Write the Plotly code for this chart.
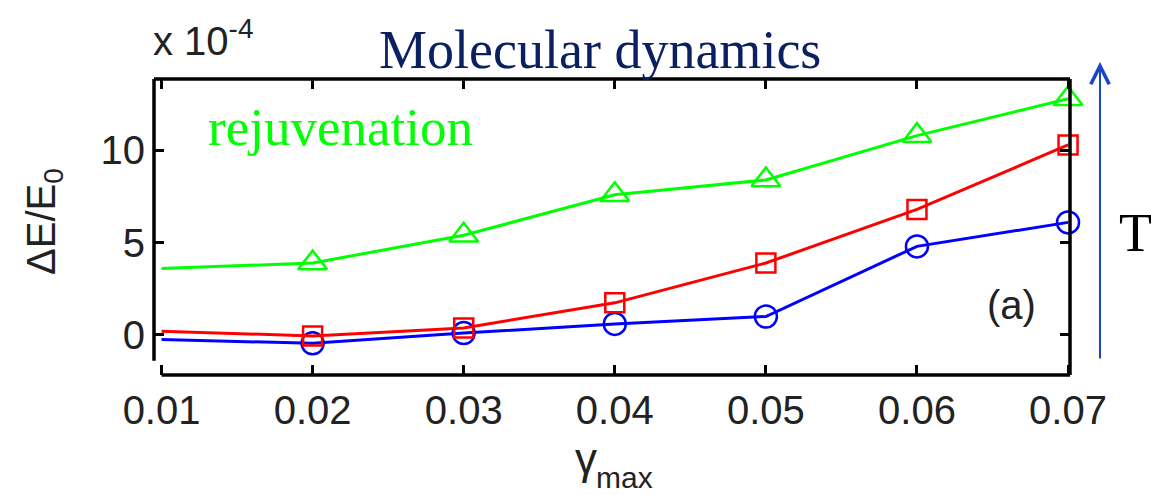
import plotly.graph_objects as go

# ---- data ----
gamma_max = [0.01, 0.02, 0.03, 0.04, 0.05, 0.06, 0.07]
x_tick_labels = ["0.01", "0.02", "0.03", "0.04", "0.05", "0.06", "0.07"]
y_tick_values = [0, 5, 10]
y_tick_labels = ["0", "5", "10"]

# Delta E / E0 in units of 1e-4
high_T = [3.6, 3.9, 5.4, 7.6, 8.4, 10.8, 12.8]      # green triangles
mid_T = [0.2, -0.05, 0.38, 1.74, 3.9, 6.8, 10.3]    # red squares
low_T = [-0.25, -0.45, 0.1, 0.6, 1.0, 4.8, 6.1]     # blue circles

# ---- layout geometry ----
W, H = 1151, 495
ML, MR, MT, MB = 154, 81, 79, 120
x_range = [0.0095, 0.07013]
y_range = [-2.17, 13.87]
left_axis_bottom = -1.4

PW = W - ML - MR
PH = H - MT - MB


def px(xp):
    return (xp - ML) / PW


def py(yp):
    return (H - MB - yp) / PH


series = [
    (low_T, "#0000ff", "circle-open", 22),
    (mid_T, "#ff0000", "square-open", 19),
    (high_T, "#00ff00", "triangle-up-open", 25),
]

fig = go.Figure()
for vals, col, sym, size in series:
    fig.add_trace(go.Scatter(
        x=gamma_max, y=vals, mode="lines+markers",
        line=dict(color=col, width=3),
        marker=dict(symbol=sym, size=size, color=col,
                    opacity=[0] + [1] * (len(vals) - 1),
                    line=dict(color=col, width=2.5)),
        showlegend=False, cliponaxis=False,
    ))

sans = "Liberation Sans, Arial, sans-serif"
serif = "Liberation Serif, Times New Roman, serif"
tick_col = "#222222"

fig.update_xaxes(
    range=x_range, tickvals=gamma_max, ticktext=x_tick_labels,
    ticks="inside", ticklen=10, tickwidth=3, tickcolor="black",
    mirror="ticks", showline=False, showgrid=False, zeroline=False,
    ticklabelstandoff=8,
    tickfont=dict(family=sans, size=40, color=tick_col),
)
fig.update_yaxes(
    range=y_range, tickvals=y_tick_values, ticktext=y_tick_labels,
    ticks="inside", ticklen=10, tickwidth=3, tickcolor="black",
    mirror="ticks", showline=False, showgrid=False, zeroline=False,
    ticklabelstandoff=8,
    tickfont=dict(family=sans, size=40, color=tick_col),
)

lw = 3.5
shapes = [
    dict(type="line", xref="paper", yref="y", x0=0, x1=0,
         y0=left_axis_bottom, y1=y_range[1], line=dict(color="black", width=lw)),
    dict(type="line", xref="paper", yref="paper", x0=0, x1=1, y0=1, y1=1,
         line=dict(color="black", width=lw)),
    dict(type="line", xref="paper", yref="paper", x0=1, x1=1, y0=0, y1=1,
         line=dict(color="black", width=lw)),
    dict(type="line", xref="x", yref="paper", x0=gamma_max[0], x1=x_range[1],
         y0=0, y1=0, line=dict(color="black", width=lw)),
]

annotations = [
    dict(text="Molecular dynamics", xref="paper", yref="paper",
         x=px(600), y=py(50), xanchor="center", yanchor="middle",
         showarrow=False, font=dict(family=serif, size=54, color="#0a2060")),
    dict(text="rejuvenation", xref="paper", yref="paper",
         x=px(206), y=py(127), xanchor="left", yanchor="middle",
         showarrow=False, font=dict(family=serif, size=53, color="#00ff00")),
    dict(text="T", xref="paper", yref="paper",
         x=px(1135), y=py(233), xanchor="center", yanchor="middle",
         showarrow=False, font=dict(family=serif, size=54, color="black")),
    dict(text="(a)", xref="paper", yref="paper",
         x=px(1011), y=py(305), xanchor="center", yanchor="middle",
         showarrow=False, font=dict(family=sans, size=40, color=tick_col)),
    dict(text="x 10<sup>-4</sup>", xref="paper", yref="paper",
         x=px(151), y=py(38), xanchor="left", yanchor="middle",
         showarrow=False, font=dict(family=sans, size=40, color=tick_col)),
    dict(text="ΔE/E<sub>0</sub>", xref="paper", yref="paper",
         x=px(44), y=py(222), xanchor="center", yanchor="middle", textangle=-90,
         showarrow=False, font=dict(family=sans, size=40, color=tick_col)),
    dict(text="γ", xref="paper", yref="paper",
         x=px(586), y=py(458), xanchor="center", yanchor="middle",
         showarrow=False, font=dict(family=sans, size=44, color=tick_col)),
    dict(text="max", xref="paper", yref="paper",
         x=px(594), y=py(477), xanchor="left", yanchor="middle",
         showarrow=False, font=dict(family=sans, size=30, color=tick_col)),
    # temperature arrow
    dict(text="", xref="paper", yref="paper", x=px(1100), y=py(62),
         ax=0, ay=360 - 62, showarrow=True, arrowhead=5, arrowsize=1.8,
         arrowwidth=2, arrowcolor="#1a45c8"),
]

fig.update_layout(
    width=W, height=H, autosize=False,
    margin=dict(l=ML, r=MR, t=MT, b=MB, pad=0),
    paper_bgcolor="white", plot_bgcolor="white",
    shapes=shapes, annotations=annotations, showlegend=False,
)

fig.write_html("out.html", config={"displayModeBar": False})
